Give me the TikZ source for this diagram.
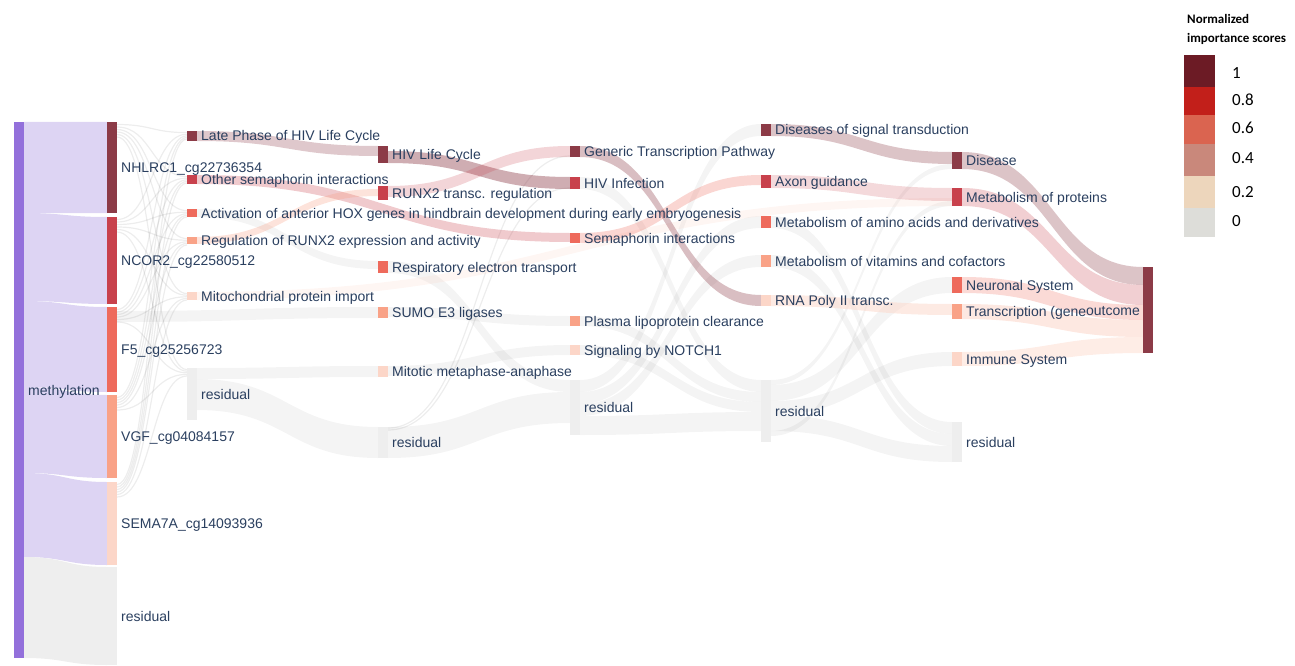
\documentclass[tikz,border=0pt]{standalone}
\usepackage{fontspec}
\setmainfont{Liberation Sans}
\newfontfamily\legfont{Carlito}
\usetikzlibrary{calc}
\pgfdeclarelayer{bg}
\pgfsetlayers{bg,main}
\definecolor{txt}{HTML}{2A3F5F}
\definecolor{cA}{HTML}{8C3B47}
\definecolor{cB}{HTML}{C8414C}
\definecolor{cC}{HTML}{EE6A5C}
\definecolor{cD}{HTML}{F9A287}
\definecolor{cE}{HTML}{FCD6C8}
\definecolor{purp}{HTML}{9370DB}
\definecolor{purpl}{HTML}{DDD4F3}
\definecolor{resg}{HTML}{EEEEEE}
\definecolor{LA}{HTML}{6C1B25}
\definecolor{LB}{HTML}{C21F1A}
\definecolor{LC}{HTML}{DA6450}
\definecolor{LD}{HTML}{C9887B}
\definecolor{LE}{HTML}{EDD6BC}
\definecolor{LF}{HTML}{DDDDD9}
% node: name, colour, x-left, top, bottom (pixel units)
\newcommand\sk[5]{\node[skbar,fill=#2,minimum height={(#5-#4)*1pt}] (#1) at ({#3+5},{(#4+#5)/2}) {};}
% ribbon: [style] source, src-top-offset, src-bottom-offset, target, tgt-top-offset, tgt-bottom-offset
\newcommand\rib[7][]{%
 \fill[#1] let \p1=(#2.north east), \p2=(#5.north west), \n1={0.5*(\x2-\x1)} in
 (\x1,\y1-#3pt) .. controls (\x1+\n1,\y1-#3pt) and (\x2-\n1,\y2-#6pt) .. (\x2,\y2-#6pt)
 -- (\x2,\y2-#7pt) .. controls (\x2-\n1,\y2-#7pt) and (\x1+\n1,\y1-#4pt) .. (\x1,\y1-#4pt) -- cycle;}
\newcommand\thinl[4]{%
 \draw[thinflow] let \p1=(#1.north east), \p2=(#3.north west), \n1={0.5*(\x2-\x1)} in
 (\x1,\y1-#2pt) .. controls (\x1+\n1,\y1-#2pt) and (\x2-\n1,\y2-#4pt) .. (\x2,\y2-#4pt);}
\newcommand\lab[2]{\node[labst] (#1-l) at ([xshift=4pt]#1.east) {#2};}
\begin{document}
\begin{tikzpicture}[x=1pt,y=-1pt,
 skbar/.style={rectangle,inner sep=0pt,outer sep=0pt,minimum width=10pt,draw=none},
 gflow/.style={fill=black,fill opacity=0.045},
 thinflow/.style={draw=black,draw opacity=0.07,line width=1.2pt},
 labst/.style={anchor=west,inner sep=0pt,text=txt,font=\fontsize{14}{16}\selectfont,text height=10.5pt,text depth=0.5pt},
 legnum/.style={anchor=west,inner sep=0pt,font=\legfont\fontsize{17}{19}\selectfont,text height=11.5pt,text depth=0pt},
 legtit/.style={anchor=west,inner sep=0pt,font=\legfont\bfseries\fontsize{13}{15}\selectfont,text height=9pt,text depth=2.5pt},
 legbox/.style={rectangle,inner sep=0pt,outer sep=0pt,minimum width=31pt,draw=none}]
\useasboundingbox (0,0) rectangle (1295,666);
% ---------- nodes ----------
\sk{meth}{purp}{14}{122}{658}
\sk{nhl}{cA}{107}{122}{213}
\sk{ncor}{cB}{107}{217}{304}
\sk{f5}{cC}{107}{307}{392}
\sk{vgf}{cD}{107}{395}{478}
\sk{sema}{cE}{107}{482}{565}
\sk{resA}{resg}{107}{567}{665}
\sk{late}{cA}{187}{131}{141}
\sk{osem}{cB}{187}{175}{184}
\sk{hox}{cC}{187}{209}{217}
\sk{rrunx}{cD}{187}{237}{244}
\sk{mito}{cE}{187}{292}{300}
\sk{resB}{resg}{187}{368}{420}
\sk{hivlc}{cA}{378}{146}{163}
\sk{runx}{cB}{378}{186}{200}
\sk{resp}{cC}{378}{261}{273}
\sk{sumo}{cD}{378}{307}{318}
\sk{mitot}{cE}{378}{366}{377}
\sk{resC}{resg}{378}{427}{458}
\sk{gtp}{cA}{570}{146}{157}
\sk{hivinf}{cB}{570}{177}{189}
\sk{semint}{cC}{570}{233}{243}
\sk{plasma}{cD}{570}{316}{326}
\sk{notch}{cE}{570}{345}{355}
\sk{resD}{resg}{570}{380}{435}
\sk{dst}{cA}{761}{124}{136}
\sk{axon}{cB}{761}{175}{188}
\sk{maa}{cC}{761}{216}{228}
\sk{mvc}{cD}{761}{255}{267}
\sk{rna}{cE}{761}{295}{306}
\sk{resE}{resg}{761}{380}{442}
\sk{dis}{cA}{952}{152}{169}
\sk{mprot}{cB}{952}{188}{206}
\sk{neuro}{cC}{952}{277}{293}
\sk{trans}{cD}{952}{304}{319}
\sk{immune}{cE}{952}{352}{366}
\sk{resF}{resg}{952}{422}{462}
\sk{outc}{cA}{1143}{267}{353}
% ---------- flows ----------
\begin{pgfonlayer}{bg}
\rib[fill=purpl]{meth}{0}{91}{nhl}{0}{91}
\rib[fill=purpl]{meth}{91}{179}{ncor}{0}{87}
\rib[fill=purpl]{meth}{179}{265}{f5}{0}{85}
\rib[fill=purpl]{meth}{265}{351}{vgf}{0}{83}
\rib[fill=purpl]{meth}{351}{435}{sema}{0}{83}
\rib[fill=resg]{meth}{435}{536}{resA}{0}{98}
% thin gray links genes -> pathways
\foreach \g [count=\i] in {nhl,ncor,f5,vgf,sema}{
  \foreach \t [count=\j] in {late,osem,hox,rrunx,mito,resB}{
    \thinl{\g}{\j*2.5}{\t}{\i*1.6}
  }
}
% gray links
\rib[gflow]{f5}{4}{15}{sumo}{0}{11}
\rib[gflow]{resB}{0}{11}{mitot}{0}{11}
\rib[gflow]{resB}{11}{42}{resC}{0}{31}
\rib[gflow]{hox}{0}{8}{resp}{0}{8}
\rib[gflow]{resp}{0}{12}{resD}{0}{12}
\rib[gflow]{sumo}{0}{10}{plasma}{0}{10}
\rib[gflow]{mitot}{0}{10}{notch}{0}{10}
\rib[gflow]{resC}{0}{31}{resD}{12}{43}
\thinl{resC}{1}{gtp}{10}
\thinl{resC}{3}{hivinf}{11}
\rib[gflow]{resD}{0}{12}{dst}{0}{12}
\rib[gflow]{resD}{12}{24}{maa}{0}{12}
\rib[gflow]{resD}{24}{36}{mvc}{0}{12}
\rib[gflow]{hivinf}{0}{12}{resE}{0}{12}
\rib[gflow]{plasma}{0}{10}{resE}{12}{22}
\rib[gflow]{notch}{0}{10}{resE}{22}{32}
\rib[gflow]{resD}{36}{55}{resE}{32}{51}
\rib[gflow]{maa}{0}{12}{resF}{0}{12}
\rib[gflow]{mvc}{0}{12}{resF}{12}{24}
\rib[gflow]{resE}{0}{5}{dis}{12}{17}
\rib[gflow]{resE}{5}{21}{neuro}{0}{16}
\rib[gflow]{resE}{21}{35}{immune}{0}{14}
\rib[gflow]{resE}{35}{51}{resF}{24}{40}
\rib[gflow]{resE}{51}{56}{mprot}{13}{18}
% coloured links
\rib[fill=cA,fill opacity=0.28]{late}{0}{10}{hivlc}{0}{10}
\rib[fill=cB,fill opacity=0.28]{osem}{0}{9}{semint}{0}{9}
\rib[fill=cD,fill opacity=0.3]{rrunx}{0}{7}{runx}{3}{10}
\rib[fill=cE,fill opacity=0.22]{mito}{0}{8}{mprot}{10}{18}
\rib[fill=cA,fill opacity=0.42]{hivlc}{5}{17}{hivinf}{0}{12}
\rib[fill=cB,fill opacity=0.22]{runx}{0}{11}{gtp}{0}{11}
\rib[fill=cA,fill opacity=0.33]{gtp}{0}{11}{rna}{0}{11}
\rib[fill=cC,fill opacity=0.28]{semint}{0}{10}{axon}{0}{10}
\rib[fill=cA,fill opacity=0.3]{dst}{0}{12}{dis}{0}{12}
\rib[fill=cB,fill opacity=0.2]{axon}{0}{13}{mprot}{0}{13}
\rib[fill=cE,fill opacity=0.5]{rna}{0}{11}{trans}{0}{11}
\rib[fill=cA,fill opacity=0.3]{dis}{0}{17}{outc}{0}{18}
\rib[fill=cB,fill opacity=0.25]{mprot}{0}{18}{outc}{18}{38}
\rib[fill=cC,fill opacity=0.25]{neuro}{0}{16}{outc}{38}{53}
\rib[fill=cD,fill opacity=0.25]{trans}{0}{15}{outc}{53}{70}
\rib[fill=cE,fill opacity=0.45]{immune}{0}{14}{outc}{70}{86}
\end{pgfonlayer}
% ---------- labels ----------
\node[labst] (meth-l) at (28,390) {methylation};
\lab{nhl}{NHLRC1\_cg22736354}
\lab{ncor}{NCOR2\_cg22580512}
\lab{f5}{F5\_cg25256723}
\lab{vgf}{VGF\_cg04084157}
\lab{sema}{SEMA7A\_cg14093936}
\lab{resA}{residual}
\lab{late}{Late Phase of HIV Life Cycle}
\lab{osem}{Other semaphorin interactions}
\lab{hox}{Activation of anterior HOX genes in hindbrain development during early embryogenesis}
\lab{rrunx}{Regulation of RUNX2 expression and activity}
\lab{mito}{Mitochondrial protein import}
\lab{resB}{residual}
\lab{hivlc}{HIV Life Cycle}
\lab{runx}{RUNX2 transc. regulation}
\lab{resp}{Respiratory electron transport}
\lab{sumo}{SUMO E3 ligases}
\lab{mitot}{Mitotic metaphase-anaphase}
\lab{resC}{residual}
\lab{gtp}{Generic Transcription Pathway}
\lab{hivinf}{HIV Infection}
\lab{semint}{Semaphorin interactions}
\lab{plasma}{Plasma lipoprotein clearance}
\lab{notch}{Signaling by NOTCH1}
\lab{resD}{residual}
\lab{dst}{Diseases of signal transduction}
\lab{axon}{Axon guidance}
\lab{maa}{Metabolism of amino acids and derivatives}
\lab{mvc}{Metabolism of vitamins and cofactors}
\lab{rna}{RNA Poly II transc.}
\lab{resE}{residual}
\lab{dis}{Disease}
\lab{mprot}{Metabolism of proteins}
\lab{neuro}{Neuronal System}
\lab{trans}{Transcription (gene}
\lab{immune}{Immune System}
\lab{resF}{residual}
\node[labst,anchor=east] (outc-l) at ([xshift=-3pt]outc.west) {outcome};
% ---------- legend ----------
\node[legtit] (lt1) at (1187,20) {Normalized};
\node[legtit] (lt2) at (1187,39) {importance scores};
\node[legbox,fill=LA,minimum height=32pt] (lg1) at (1199.5,71) {};
\node[legbox,fill=LB,minimum height=28pt] (lg2) at (1199.5,101) {};
\node[legbox,fill=LC,minimum height=29pt] (lg3) at (1199.5,129.5) {};
\node[legbox,fill=LD,minimum height=32pt] (lg4) at (1199.5,160) {};
\node[legbox,fill=LE,minimum height=32pt] (lg5) at (1199.5,192) {};
\node[legbox,fill=LF,minimum height=29pt] (lg6) at (1199.5,222.5) {};
\node[legnum] (ln1) at (1232,73) {1};
\node[legnum] (ln2) at (1232,100) {0.8};
\node[legnum] (ln3) at (1232,128) {0.6};
\node[legnum] (ln4) at (1232,158) {0.4};
\node[legnum] (ln5) at (1232,192) {0.2};
\node[legnum] (ln6) at (1232,221) {0};
\end{tikzpicture}
\end{document}
